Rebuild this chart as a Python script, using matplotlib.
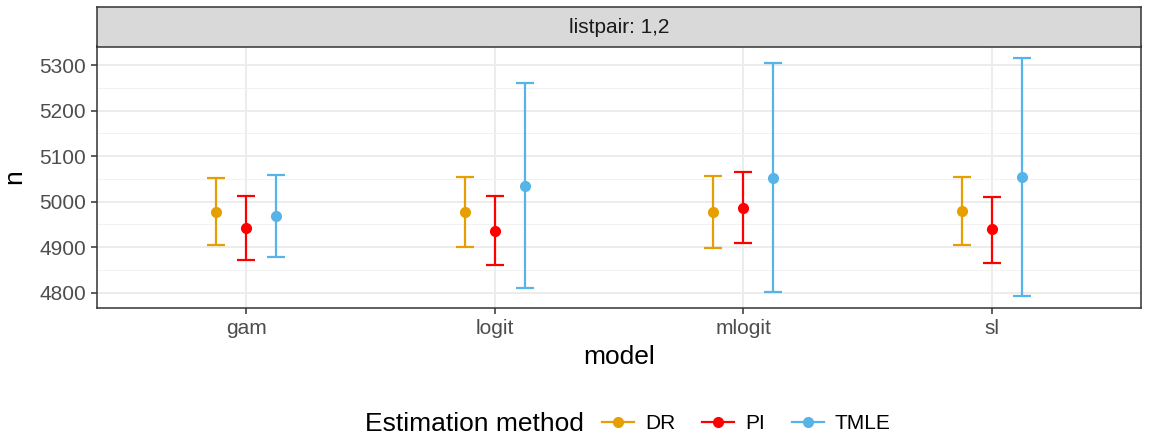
import matplotlib
matplotlib.use('Agg')
import matplotlib.pyplot as plt
from matplotlib.lines import Line2D
from matplotlib.offsetbox import HPacker
import numpy as np

plt.rcParams['font.family'] = ['Liberation Sans', 'DejaVu Sans']

models = ['gam', 'logit', 'mlogit', 'sl']
methods = ['DR', 'PI', 'TMLE']
colors = {'DR': '#E69F00', 'PI': '#FF0000', 'TMLE': '#56B4E9'}

est = {
    'DR':   [4978, 4978, 4978, 4979],
    'PI':   [4941, 4936, 4986, 4939],
    'TMLE': [4969, 5035, 5052, 5055],
}
lower = {
    'DR':   [4905, 4901, 4899, 4905],
    'PI':   [4871, 4861, 4908, 4866],
    'TMLE': [4878, 4810, 4801, 4792],
}
upper = {
    'DR':   [5052, 5055, 5057, 5054],
    'PI':   [5013, 5012, 5066, 5011],
    'TMLE': [5058, 5260, 5305, 5316],
}

fig = plt.figure(figsize=(11.54, 4.36), dpi=100)
ax = fig.add_axes([0.0841, 0.2936, 0.9046, 0.6006])

x = np.arange(1, len(models) + 1)
offsets = {'DR': -0.12, 'PI': 0.0, 'TMLE': 0.12}
for m in methods:
    xs = x + offsets[m]
    ax.errorbar(xs, est[m],
                yerr=[np.array(est[m]) - np.array(lower[m]),
                      np.array(upper[m]) - np.array(est[m])],
                fmt='o', color=colors[m], ms=7, elinewidth=1.6,
                capsize=6.2, capthick=1.6, zorder=3)

ax.set_xlim(0.4, 4.6)
ax.set_ylim(4766, 5342)
ax.set_xticks(x)
ax.set_xticklabels(models)
ax.set_yticks(np.arange(4800, 5301, 100))
ax.set_yticks(np.arange(4850, 5301, 100), minor=True)
ax.grid(True, which='major', color='#EBEBEB', lw=1.3, zorder=0)
ax.grid(True, which='minor', axis='y', color='#F2F2F2', lw=0.7, zorder=0)
ax.set_axisbelow(True)
for s in ax.spines.values():
    s.set_color('#333333')
    s.set_linewidth(1.1)
ax.tick_params(axis='both', which='major', labelsize=15, colors='#333333',
               length=4, width=1.1, labelcolor='#4D4D4D', pad=4)
ax.tick_params(axis='both', which='minor', length=0)
ax.set_xlabel('model', fontsize=19, labelpad=5)
ax.set_ylabel('n', fontsize=19, labelpad=9)

# facet strip
strip = fig.add_axes([0.0841, 0.8922, 0.9046, 0.0917])
strip.set_facecolor('#D9D9D9')
strip.set_xticks([])
strip.set_yticks([])
for s in strip.spines.values():
    s.set_color('#333333')
    s.set_linewidth(1.1)
strip.text(0.5, 0.5, 'listpair: 1,2', ha='center', va='center',
           fontsize=15, color='#1A1A1A', transform=strip.transAxes)

# legend at the bottom, title on the same row as the keys
handles = [Line2D([0], [0], color=colors[m], marker='o', ms=7, lw=1.6)
           for m in methods]
leg = fig.legend(handles, methods, loc='center', ncol=3,
                 bbox_to_anchor=(0.544, 0.028), frameon=False,
                 title='Estimation method', fontsize=15, title_fontsize=19,
                 handlelength=1.55, columnspacing=1.3, handletextpad=0.5,
                 borderpad=0.2)
title_box = leg._legend_box.get_children()[0]
items_box = leg._legend_box.get_children()[1]
leg._legend_box._children = [HPacker(pad=0, sep=13,
                                     children=[title_box, items_box],
                                     align='center')]

fig.savefig('out.png', dpi=100)
